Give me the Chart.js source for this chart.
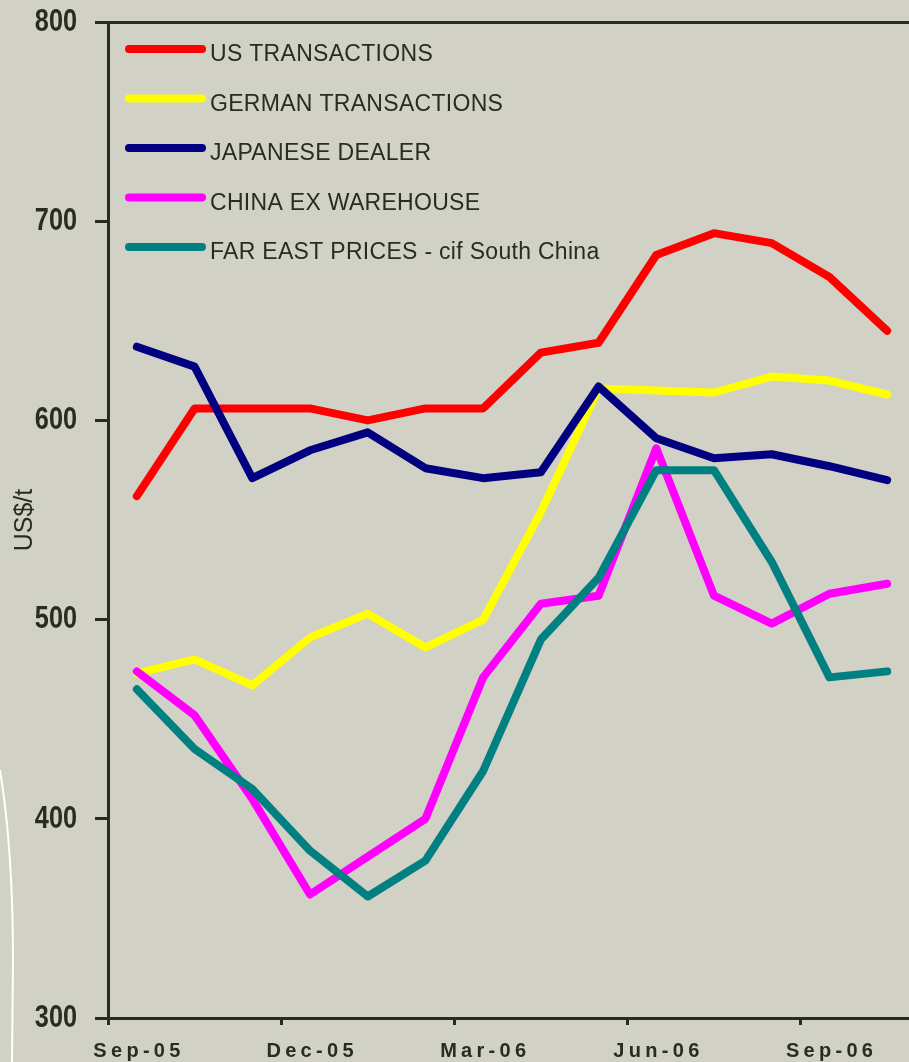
<!DOCTYPE html>
<html>
<head>
<meta charset="utf-8">
<script src="https://cdn.jsdelivr.net/npm/chart.js@4.4.1/dist/chart.umd.min.js"></script>
<style>
html,body{margin:0;padding:0;background:#d1d1c5;overflow:hidden;}
#wrap{width:909px;height:1062px;overflow:hidden;position:relative;}
#box{width:918px;height:1062px;position:absolute;left:0;top:0;}
</style>
</head>
<body>
<div id="wrap"><div id="box"><canvas id="c"></canvas></div></div>
<script>
// ---- data ----
const months = ['Sep-05','Oct-05','Nov-05','Dec-05','Jan-06','Feb-06','Mar-06','Apr-06','May-06','Jun-06','Jul-06','Aug-06','Sep-06','Oct-06'];
const shownLabels = ['Sep-05','Dec-05','Mar-06','Jun-06','Sep-06'];
const yTicks = [300,400,500,600,700,800];
const seriesNames = ['US TRANSACTIONS','GERMAN TRANSACTIONS','JAPANESE DEALER','CHINA EX WAREHOUSE','FAR EAST PRICES - cif South China'];
const usTransactions   = [562,606,606,606,600,606,606,634,639,683,694,689,672,645];
const germanTransactions = [473,480,467,491,503,486,500,554,616,615,614,622,620,613];
const japaneseDealer   = [637,627,571,585,594,576,571,574,617,591,581,583,577,570];
const chinaExWarehouse = [474,452,410,362,381,400,471,508,512,586,512,498,513,518];
const farEastPrices    = [465,435,415,384,361,379,424,490,521,575,575,529,471,474];
const seriesColors = ['#ff0000','#ffff00','#000080','#ff00ff','#008080'];

const AX = '#2a2b22';
const BG = '#d1d1c5';

const allSeries = [usTransactions, germanTransactions, japaneseDealer, chinaExWarehouse, farEastPrices];

const bgPlugin = {
  id: 'bg',
  beforeDraw(chart) {
    const c = chart.ctx;
    c.save();
    c.fillStyle = BG;
    c.fillRect(0, 0, chart.width, chart.height);
    // decorative white curve at left edge
    c.strokeStyle = '#ffffff';
    c.lineWidth = 2;
    c.beginPath();
    c.moveTo(0, 770);
    c.quadraticCurveTo(13, 850, 13, 960);
    c.lineTo(12, 1062);
    c.stroke();
    c.restore();
  }
};

const legendPlugin = {
  id: 'customLegend',
  afterDraw(chart) {
    const c = chart.ctx;
    c.save();
    chart.data.datasets.forEach((ds, i) => {
      const y = 49 + i * 49.5;
      c.strokeStyle = ds.borderColor;
      c.lineWidth = 8;
      c.lineCap = 'round';
      c.beginPath();
      c.moveTo(129, y);
      c.lineTo(202, y);
      c.stroke();
      c.fillStyle = AX;
      c.font = '23px "Liberation Sans", Arial, sans-serif';
      try { c.letterSpacing = '0.3px'; } catch (e) {}
      c.textAlign = 'left';
      c.textBaseline = 'alphabetic';
      c.fillText(ds.label, 210, y + 12);
    });
    c.restore();
  }
};

const axisLabelPlugin = {
  id: 'axisLabels',
  afterDraw(chart) {
    const c = chart.ctx;
    const xs = chart.scales.x;
    const ys = chart.scales.y;
    // y tick labels: tall, narrow bold digits
    c.save();
    c.fillStyle = AX;
    c.font = 'bold 32px "Liberation Sans", Arial, sans-serif';
    c.textAlign = 'right';
    c.textBaseline = 'middle';
    yTicks.forEach(v => {
      const py = ys.getPixelForValue(v);
      c.save();
      c.translate(77, py);
      c.scale(0.79, 1);
      c.fillText(String(v), 0, 0);
      c.restore();
    });
    c.restore();
    // x tick labels with wide letter spacing
    c.save();
    c.fillStyle = AX;
    c.font = 'bold 20px "Liberation Sans", Arial, sans-serif';
    c.textAlign = 'center';
    c.textBaseline = 'alphabetic';
    const ls = 4.3;
    try { c.letterSpacing = ls + 'px'; } catch (e) {}
    shownLabels.forEach(lab => {
      const idx = months.indexOf(lab);
      const px = xs.getPixelForValue(idx);
      c.fillText(lab, px + ls / 2, 1057);
    });
    c.restore();
  }
};

new Chart(document.getElementById('c'), {
  type: 'line',
  data: {
    labels: months,
    datasets: allSeries.map((d, i) => ({
      label: seriesNames[i],
      data: d,
      borderColor: seriesColors[i],
      backgroundColor: seriesColors[i],
      borderWidth: 8,
      pointRadius: 0,
      pointHoverRadius: 0,
      tension: 0,
      fill: false,
      borderJoinStyle: 'round',
      borderCapStyle: 'round',
      order: allSeries.length - i
    }))
  },
  options: {
    responsive: true,
    maintainAspectRatio: false,
    animation: false,
    events: [],
    layout: { padding: { top: 22, right: 2, left: 0, bottom: 0 } },
    plugins: {
      legend: { display: false },
      tooltip: { enabled: false },
      title: { display: false }
    },
    scales: {
      x: {
        type: 'category',
        offset: true,
        grid: {
          offset: true,
          drawOnChartArea: false,
          drawTicks: true,
          tickLength: 7,
          tickWidth: 3,
          tickColor: (ctx) => (ctx.index % 3 === 0 ? AX : 'rgba(0,0,0,0)')
        },
        border: { display: true, color: AX, width: 3 },
        ticks: { display: false },
        afterFit: (s) => { s.height = 1062 - 1018; }
      },
      y: {
        min: 300,
        max: 800,
        afterBuildTicks: (s) => { s.ticks = yTicks.map(v => ({ value: v })); },
        ticks: { display: false },
        grid: {
          drawOnChartArea: true,
          color: (ctx) => (ctx.tick && ctx.tick.value === 800 ? AX : 'rgba(0,0,0,0)'),
          lineWidth: 3,
          drawTicks: true,
          tickLength: 13,
          tickWidth: 3,
          tickColor: AX
        },
        border: { display: true, color: AX, width: 3 },
        title: {
          display: true,
          text: 'US$/t',
          color: AX,
          font: { family: '"Liberation Sans", Arial, sans-serif', size: 25 },
          padding: { top: 10, bottom: 0 }
        },
        afterFit: (s) => { s.width = 108; }
      }
    }
  },
  plugins: [bgPlugin, legendPlugin, axisLabelPlugin]
});
</script>
</body>
</html>
